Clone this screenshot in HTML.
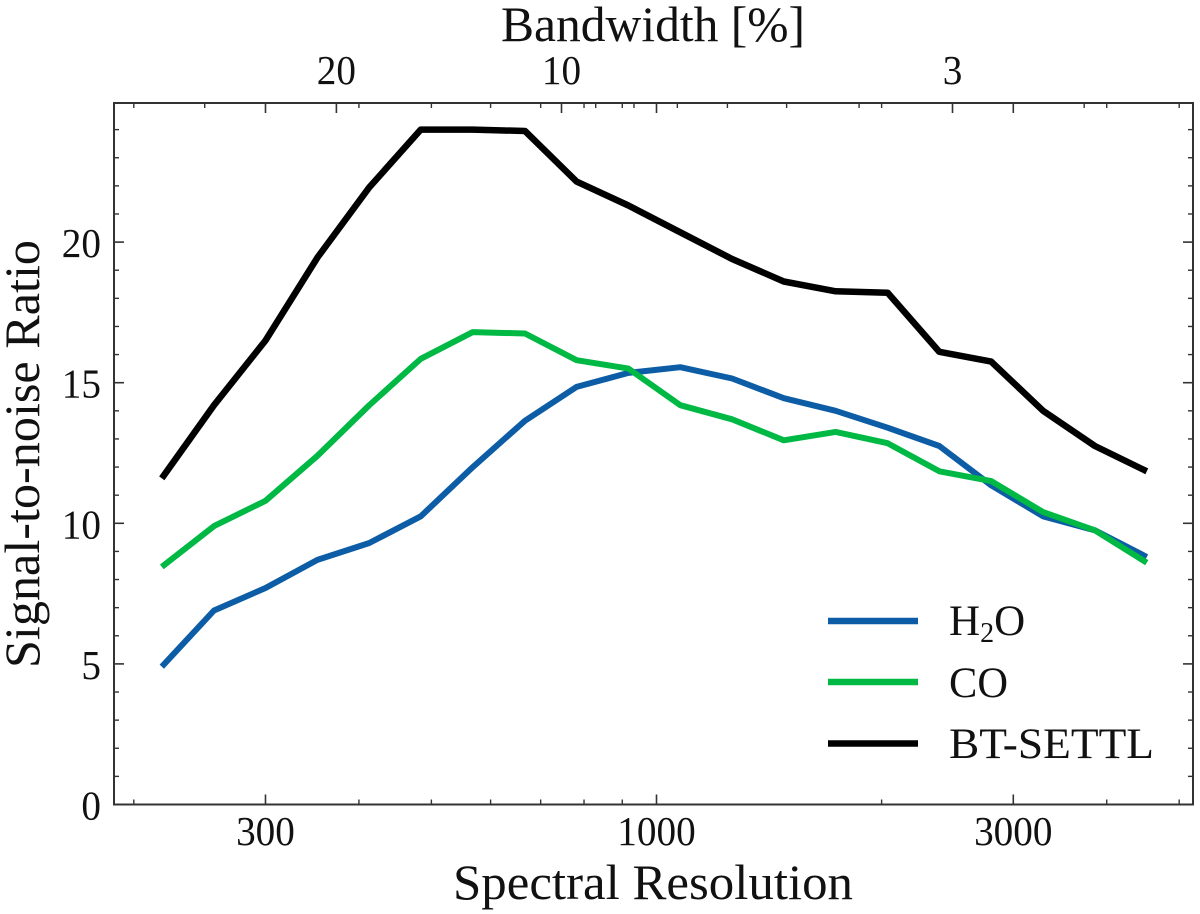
<!DOCTYPE html>
<html lang="en">
<head>
<meta charset="utf-8">
<title>Signal-to-noise Ratio vs Spectral Resolution</title>
<style>
html,body{margin:0;padding:0;background:#fff;}
svg{display:block;}
text{font-family:"Liberation Serif",serif;fill:#111;}
</style>
</head>
<body>
<svg id="chart" xmlns="http://www.w3.org/2000/svg" width="1200" height="914" viewBox="0 0 1200 914">
  <rect x="0" y="0" width="1200" height="914" fill="#fff"/>
  <g id="series"></g>
  <g id="ticks"></g>
  <rect x="114" y="103" width="1079" height="701.5" fill="none" stroke="#333" stroke-width="2"/>
  <g id="labels"></g>
  <text x="653" y="41" font-size="50" text-anchor="middle" textLength="304" lengthAdjust="spacingAndGlyphs">Bandwidth [%]</text>
  <text x="653" y="899" font-size="50" text-anchor="middle" textLength="400" lengthAdjust="spacingAndGlyphs">Spectral Resolution</text>
  <text transform="translate(39,454) rotate(-90)" font-size="50" text-anchor="middle" textLength="428" lengthAdjust="spacingAndGlyphs">Signal-to-noise Ratio</text>
  <g>
    <line x1="828" x2="918" y1="621" y2="621" stroke="#0C5DA5" stroke-width="6.5"/>
    <text x="949" y="635" font-size="43">H<tspan font-size="28" dy="7">2</tspan><tspan dy="-7">O</tspan></text>
    <line x1="828" x2="918" y1="682" y2="682" stroke="#00B945" stroke-width="6.5"/>
    <text x="949" y="697" font-size="43" textLength="59" lengthAdjust="spacingAndGlyphs">CO</text>
    <line x1="828" x2="918" y1="743.5" y2="743.5" stroke="#000" stroke-width="6.5"/>
    <text x="949" y="758" font-size="43" textLength="205" lengthAdjust="spacingAndGlyphs">BT-SETTL</text>
  </g>
</svg>
<script>
const resolution = [218, 256, 300, 352, 413, 484, 568, 667, 782, 917, 1076, 1262, 1480, 1736, 2037, 2389, 2803, 3288, 3857, 4525];
const h2oValues = [4.9, 6.9, 7.7, 8.7, 9.3, 10.25, 12.0, 13.65, 14.85, 15.35, 15.55, 15.15, 14.45, 14.0, 13.4, 12.75, 11.35, 10.25, 9.75, 8.8];
const coValues = [8.45, 9.9, 10.8, 12.4, 14.2, 15.85, 16.8, 16.75, 15.8, 15.5, 14.2, 13.7, 12.95, 13.25, 12.85, 11.85, 11.5, 10.4, 9.75, 8.6];
const btSettlValues = [11.6, 14.2, 16.5, 19.45, 21.95, 24.0, 24.0, 23.95, 22.15, 21.3, 20.35, 19.4, 18.6, 18.25, 18.2, 16.1, 15.75, 14.0, 12.75, 11.85];
const xMajorTicks = [300, 1000, 3000];
const xMinorTicks = [200, 400, 500, 600, 700, 800, 900, 2000, 4000, 5000];
const yMajorTicks = [0, 5, 10, 15, 20];
const yMinorTicks = [1, 2, 3, 4, 6, 7, 8, 9, 11, 12, 13, 14, 16, 17, 18, 19, 21, 22, 23, 24];
const topMajorTicks = [20, 10, 3];
const topMinorTicks = [30, 9, 8, 7, 6, 5, 4, 2];

const NS = 'http://www.w3.org/2000/svg';
const left = 114, right = 1193, top_ = 103, bottom = 804.5;
function xScale(r) { return 656.5 + (Math.log10(r) - 3) * 747.8; }
function yScale(v) { return 804.5 - v * 28.12; }
function topScale(b) { return 561.5 + (1 - Math.log10(b)) * 747.8; }

function makeLine(parent, x1, y1, x2, y2, width) {
  const l = document.createElementNS(NS, 'line');
  
  
  l.setAttribute('x1', x1); l.setAttribute('y1', y1);
  l.setAttribute('x2', x2); l.setAttribute('y2', y2);
  l.setAttribute('stroke', '#333');
  l.setAttribute('stroke-width', width);
  parent.appendChild(l);
}
function makeLabel(parent, x, y, str, anchor) {
  const t = document.createElementNS(NS, 'text');
  
  
  t.setAttribute('x', x); t.setAttribute('y', y);
  t.setAttribute('font-size', '41');
  t.setAttribute('text-anchor', anchor);
  t.setAttribute('textLength', String(str).length * 19.6);
  t.setAttribute('lengthAdjust', 'spacingAndGlyphs');
  t.textContent = str;
  parent.appendChild(t);
}

const ticks = document.getElementById('ticks');
const labels = document.getElementById('labels');
xMajorTicks.forEach(v => {
  const x = xScale(v);
  makeLine(ticks, x, bottom, x, bottom - 10, 1.6);
  makeLine(ticks, x, top_, x, top_ + 10, 1.6);
  makeLabel(labels, x, 845, v, 'middle');
});
xMinorTicks.forEach(v => {
  const x = xScale(v);
  makeLine(ticks, x, bottom, x, bottom - 5, 1.4);
  makeLine(ticks, x, top_, x, top_ + 5, 1.4);
});
topMajorTicks.forEach(v => {
  const x = topScale(v);
  makeLine(ticks, x, top_, x, top_ + 10, 1.6);
  makeLabel(labels, x, 84, v, 'middle');
});
topMinorTicks.forEach(v => {
  const x = topScale(v);
  makeLine(ticks, x, top_, x, top_ + 5, 1.4);
});
yMajorTicks.forEach(v => {
  const y = yScale(v);
  makeLine(ticks, left, y, left + 10, y, 1.6);
  makeLine(ticks, right, y, right - 10, y, 1.6);
  makeLabel(labels, 101, y + 15, v, 'end');
});
yMinorTicks.forEach(v => {
  const y = yScale(v);
  makeLine(ticks, left, y, left + 5, y, 1.4);
  makeLine(ticks, right, y, right - 5, y, 1.4);
});

function drawSeries(values, color, name, width) {
  const p = document.createElementNS(NS, 'polyline');
  
  
  p.setAttribute('points', values.map((v, i) => xScale(resolution[i]).toFixed(1) + ',' + yScale(v).toFixed(1)).join(' '));
  p.setAttribute('fill', 'none');
  p.setAttribute('stroke', color);
  p.setAttribute('stroke-width', width);
  p.setAttribute('stroke-linejoin', 'round');
  document.getElementById('series').appendChild(p);
}
drawSeries(h2oValues, '#0C5DA5', 'line-h2o', '6');
drawSeries(coValues, '#00B945', 'line-co', '6');
drawSeries(btSettlValues, '#000000', 'line-bt-settl', '6.5');
</script>
</body>
</html>
